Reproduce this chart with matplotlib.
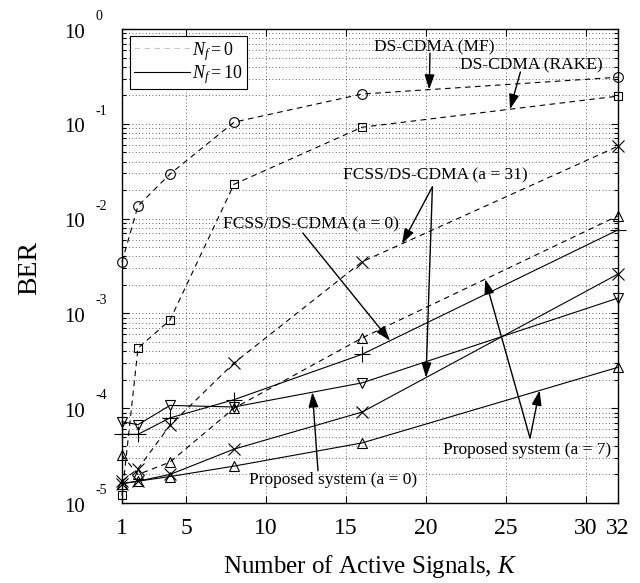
import numpy as np
import matplotlib
matplotlib.use("Agg")
import matplotlib.pyplot as plt
from matplotlib.lines import Line2D
from matplotlib.patches import ArrowStyle

plt.rcParams['font.family'] = ['Liberation Serif', 'DejaVu Serif']
plt.rcParams['mathtext.fontset'] = 'custom'
plt.rcParams['mathtext.rm'] = 'Liberation Serif'
plt.rcParams['mathtext.it'] = 'Liberation Serif:italic'
plt.rcParams['mathtext.bf'] = 'Liberation Serif:bold'

# ---------------- data ----------------
K = [1, 2, 4, 8, 16, 32]
ber_mf_nf0 = [3.5e-3, 1.36e-2, 2.95e-2, 1.04e-1, 2.06e-1, 3.1e-1]
ber_rake_nf0 = [1.2e-5, 4.3e-4, 8.5e-4, 2.3e-2, 9.2e-2, 1.96e-1]
ber_fcss31_nf0 = [1.7e-5, 2.3e-5, 6.6e-5, 3.0e-4, 3.5e-3, 5.8e-2]
ber_prop7_nf0 = [3.2e-5, 2.0e-5, 2.7e-5, 1.0e-4, 5.5e-4, 1.07e-2]
ber_fcss0_nf10 = [5.3e-5, 5.3e-5, 7.9e-5, 1.23e-4, 3.7e-4, 7.6e-3]
ber_prop0_nf10 = [7.2e-5, 6.7e-5, 1.07e-4, 1.03e-4, 1.85e-4, 1.45e-3]
ber_fcss31_nf10 = [1.6e-5, 1.7e-5, 2.0e-5, 3.7e-5, 9.1e-5, 2.6e-3]
ber_prop7_nf10 = [1.6e-5, 1.7e-5, 1.9e-5, 2.45e-5, 4.3e-5, 2.7e-4]

x_ticks = [1, 5, 10, 15, 20, 25, 30, 32]
x_tick_labels = ['1', '5', '10', '15', '20', '25', '30', '32']
y_exponents = [0, -1, -2, -3, -4, -5]
legend_labels = [r'$N_f = 0$', r'$N_f = 10$']
x_label = r'Number of Active Signals, $K$'
y_label = 'BER'

# ---------------- figure ----------------
fig = plt.figure(figsize=(6.4, 5.83), dpi=100)
ax = fig.add_axes([122/640, 1-503/583, 496/640, 474/583])

dash = (0, (5, 4))
common = dict(color='k', lw=0.8, mfc='none', mec='k', mew=0.8, clip_on=False)

series = [
    (ber_mf_nf0, dash, 'o', 7),
    (ber_rake_nf0, dash, 's', 6),
    (ber_fcss31_nf0, dash, 'x', 8),
    (ber_prop7_nf0, dash, '^', 7),
    (ber_fcss0_nf10, '-', '+', 11),
    (ber_prop0_nf10, '-', 'v', 7),
    (ber_fcss31_nf10, '-', 'x', 8),
    (ber_prop7_nf10, '-', '^', 7),
]
for vals, ls, mk, ms in series:
    ax.plot(K, vals, linestyle=ls, marker=mk, ms=ms, zorder=3, **common)

ax.set_yscale('log')
ax.set_xlim(1, 32)
ax.set_ylim(1e-5, 1)
ax.set_xticks(x_ticks)
ax.set_xticklabels(x_tick_labels, fontsize=17)
ax.yaxis.set_major_locator(matplotlib.ticker.LogLocator(base=10, numticks=10))
ax.yaxis.set_minor_locator(matplotlib.ticker.LogLocator(base=10, subs=np.arange(2, 10), numticks=20))
ax.yaxis.set_major_formatter(matplotlib.ticker.NullFormatter())
ax.yaxis.set_minor_formatter(matplotlib.ticker.NullFormatter())
ax.tick_params(which='both', direction='in', top=True, right=True, width=0.8)
ax.tick_params(which='major', length=5)
ax.tick_params(which='minor', length=3)
ax.tick_params(axis='x', pad=11)
for s in ax.spines.values():
    s.set_linewidth(1.0)

gstyle = dict(color='k', linestyle=(0, (1, 3)), linewidth=0.6, alpha=0.8)
ax.grid(True, which='major', axis='both', **gstyle)
ax.grid(True, which='minor', axis='y', **gstyle)
ax.set_axisbelow(True)

# y tick labels as 10 with raised exponent
for e in y_exponents:
    ax.annotate('10', xy=(0, 10.0**e), xycoords=('axes fraction', 'data'),
                xytext=(-26.6, -2.9), textcoords='offset points',
                ha='right', va='center', fontsize=15, annotation_clip=False)
    ax.annotate(str(e), xy=(0, 10.0**e), xycoords=('axes fraction', 'data'),
                xytext=(-19.4, 9.0), textcoords='offset points',
                ha='left', va='center', fontsize=10, annotation_clip=False)

fig.text(370/640, 1-566/583, x_label, ha='center', va='center', fontsize=18)
fig.text(30/640, 1-268/583, y_label, ha='center', va='center', fontsize=20, rotation=90)

# legend
handles = [Line2D([], [], color='#c8c8c8', lw=0.8, linestyle=(0, (5, 4))),
           Line2D([], [], color='k', lw=0.8)]
leg = ax.legend(handles, legend_labels, loc='upper left',
                bbox_to_anchor=(8/496, 1-7/474), borderaxespad=0,
                fontsize=13, handlelength=3.1, handletextpad=0.15,
                labelspacing=0.02, borderpad=0.2, fancybox=False,
                framealpha=1, edgecolor='k')
leg.get_frame().set_linewidth(0.8)

# annotations
def on_curve(vals, k):
    return 10 ** np.interp(k, K, np.log10(vals))

astyle = ArrowStyle('-|>', head_length=0.9, head_width=0.3)
aprops = dict(arrowstyle=astyle, color='k', lw=1.0, shrinkA=0, shrinkB=0,
              mutation_scale=10)
tfs = 12.5

def label(txt, x, y):
    ax.text(x, y, txt, ha='center', va='center', fontsize=tfs, zorder=5)

def arrow(start, vals, k):
    ax.annotate('', xy=(k, on_curve(vals, k)), xytext=start,
                arrowprops=aprops, zorder=5)

label('DS-CDMA (MF)', 20.5, 0.646)
arrow((20.25, 0.558), ber_mf_nf0, 20.2)

label('DS-CDMA (RAKE)', 26.6, 0.417)
arrow((25.9, 0.352), ber_rake_nf0, 25.25)

label('FCSS/DS-CDMA (a = 31)', 20.6, 0.0288)
arrow((20.4, 0.0216), ber_fcss31_nf0, 18.5)
arrow((20.4, 0.0216), ber_fcss31_nf10, 20.0)

label('FCSS/DS-CDMA (a = 0)', 12.8, 8.77e-3)
arrow((12.3, 7.05e-3), ber_fcss0_nf10, 17.75)

label('Proposed system (a = 0)', 14.2, 1.75e-5)
arrow((13.25, 2.19e-5), ber_prop0_nf10, 12.9)

label('Proposed system (a = 7)', 26.3, 3.6e-5)
arrow((26.5, 4.85e-5), ber_prop7_nf0, 23.7)
arrow((26.5, 4.85e-5), ber_prop7_nf10, 27.1)

fig.savefig('out.png', dpi=100)
